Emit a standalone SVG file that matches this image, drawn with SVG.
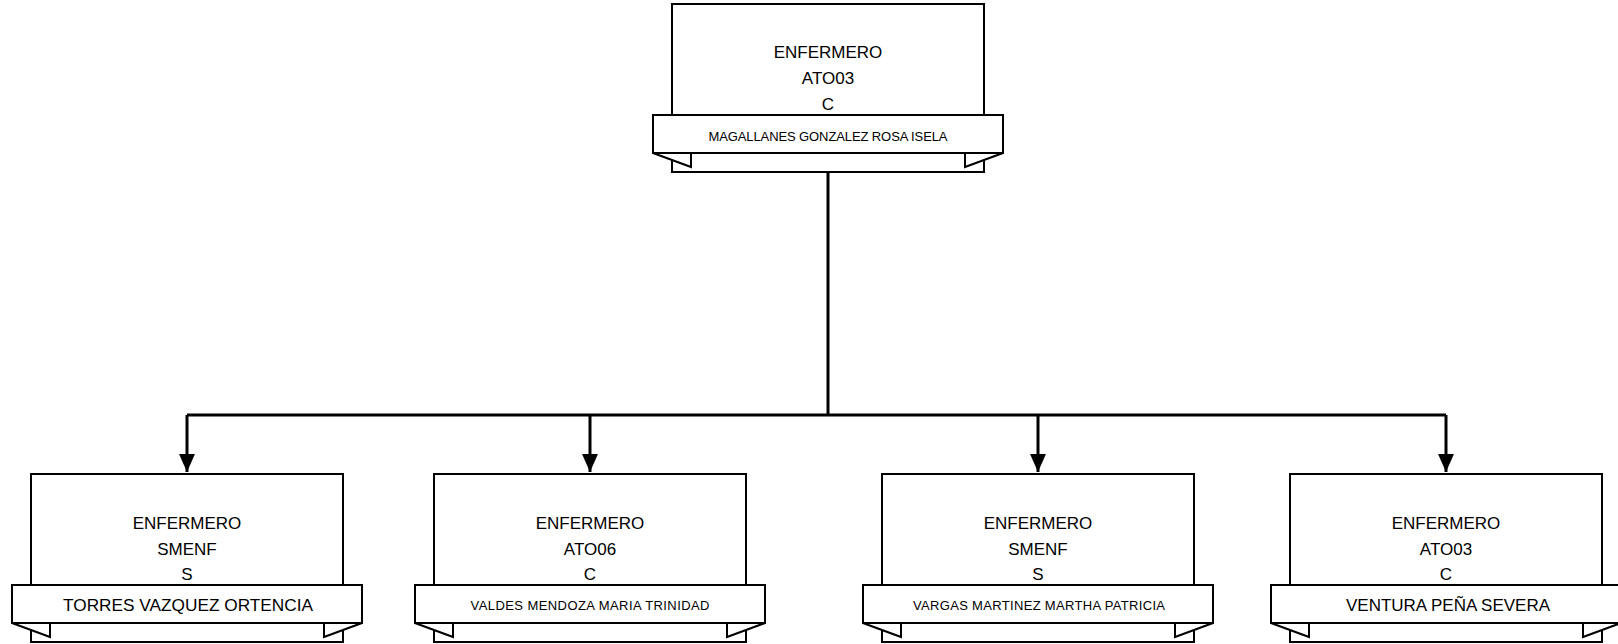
<svg xmlns="http://www.w3.org/2000/svg" width="1618" height="644" viewBox="0 0 1618 644">
<defs>
<style>
.box{fill:#fff;stroke:#000;stroke-width:2}
.fold{fill:#fff;stroke:#000;stroke-width:2;stroke-linejoin:miter}
.rib{fill:#fff;stroke:#000;stroke-width:2}
.t{font-family:"Liberation Sans",Arial,sans-serif;font-size:17px;fill:#000;text-anchor:middle}
.s{font-family:"Liberation Sans",Arial,sans-serif;font-size:13px;fill:#000;text-anchor:middle}
.con{fill:none;stroke:#000;stroke-width:3}
</style>
<marker id="arr" markerWidth="6" markerHeight="6" refX="6" refY="3" orient="auto" markerUnits="strokeWidth" viewBox="0 0 6 6">
<path d="M0,0.35 L6,3 L0,5.65 Z" fill="#000"/>
</marker>
</defs>
<rect width="1618" height="644" fill="#fff"/>
<g id="connectors">
<path class="con" d="M828,172 V415"/>
<path class="con" d="M187,415 H1446"/>
<path class="con" d="M187,415 V472" marker-end="url(#arr)"/>
<path class="con" d="M590,415 V472" marker-end="url(#arr)"/>
<path class="con" d="M1038,415 V472" marker-end="url(#arr)"/>
<path class="con" d="M1446,415 V472" marker-end="url(#arr)"/>
</g>
<g id="node-top">
<rect class="box" x="672" y="4" width="312" height="168"/>
<polygon class="fold" points="653,153 691,167 691,153"/>
<polygon class="fold" points="1003,153 965,167 965,153"/>
<rect class="rib" x="653" y="115" width="350" height="38"/>
<text class="t" x="828" y="58">ENFERMERO</text>
<text class="t" x="828" y="84">ATO03</text>
<text class="t" x="828" y="110">C</text>
<text class="s" x="828" y="141" textLength="239" lengthAdjust="spacing">MAGALLANES GONZALEZ ROSA ISELA</text>
</g>
<g id="node-1">
<rect class="box" x="31" y="474" width="312" height="168"/>
<polygon class="fold" points="12,623 50,637 50,623"/>
<polygon class="fold" points="362,623 324,637 324,623"/>
<rect class="rib" x="12" y="585" width="350" height="38"/>
<text class="t" x="187" y="529">ENFERMERO</text>
<text class="t" x="187" y="555">SMENF</text>
<text class="t" x="187" y="580">S</text>
<text class="t" x="188" y="611" textLength="250" lengthAdjust="spacingAndGlyphs">TORRES VAZQUEZ ORTENCIA</text>
</g>
<g id="node-2">
<rect class="box" x="434" y="474" width="312" height="168"/>
<polygon class="fold" points="415,623 453,637 453,623"/>
<polygon class="fold" points="765,623 727,637 727,623"/>
<rect class="rib" x="415" y="585" width="350" height="38"/>
<text class="t" x="590" y="529">ENFERMERO</text>
<text class="t" x="590" y="555">ATO06</text>
<text class="t" x="590" y="580">C</text>
<text class="s" x="590" y="610" textLength="239" lengthAdjust="spacing">VALDES MENDOZA MARIA TRINIDAD</text>
</g>
<g id="node-3">
<rect class="box" x="882" y="474" width="312" height="168"/>
<polygon class="fold" points="863,623 901,637 901,623"/>
<polygon class="fold" points="1213,623 1175,637 1175,623"/>
<rect class="rib" x="863" y="585" width="350" height="38"/>
<text class="t" x="1038" y="529">ENFERMERO</text>
<text class="t" x="1038" y="555">SMENF</text>
<text class="t" x="1038" y="580">S</text>
<text class="s" x="1039" y="610" textLength="252" lengthAdjust="spacing">VARGAS MARTINEZ MARTHA PATRICIA</text>
</g>
<g id="node-4">
<rect class="box" x="1290" y="474" width="312" height="168"/>
<polygon class="fold" points="1271,623 1309,637 1309,623"/>
<polygon class="fold" points="1621,623 1583,637 1583,623"/>
<rect class="rib" x="1271" y="585" width="350" height="38"/>
<text class="t" x="1446" y="529">ENFERMERO</text>
<text class="t" x="1446" y="555">ATO03</text>
<text class="t" x="1446" y="580">C</text>
<text class="t" x="1448" y="611">VENTURA PEÑA SEVERA</text>
</g>
</svg>
